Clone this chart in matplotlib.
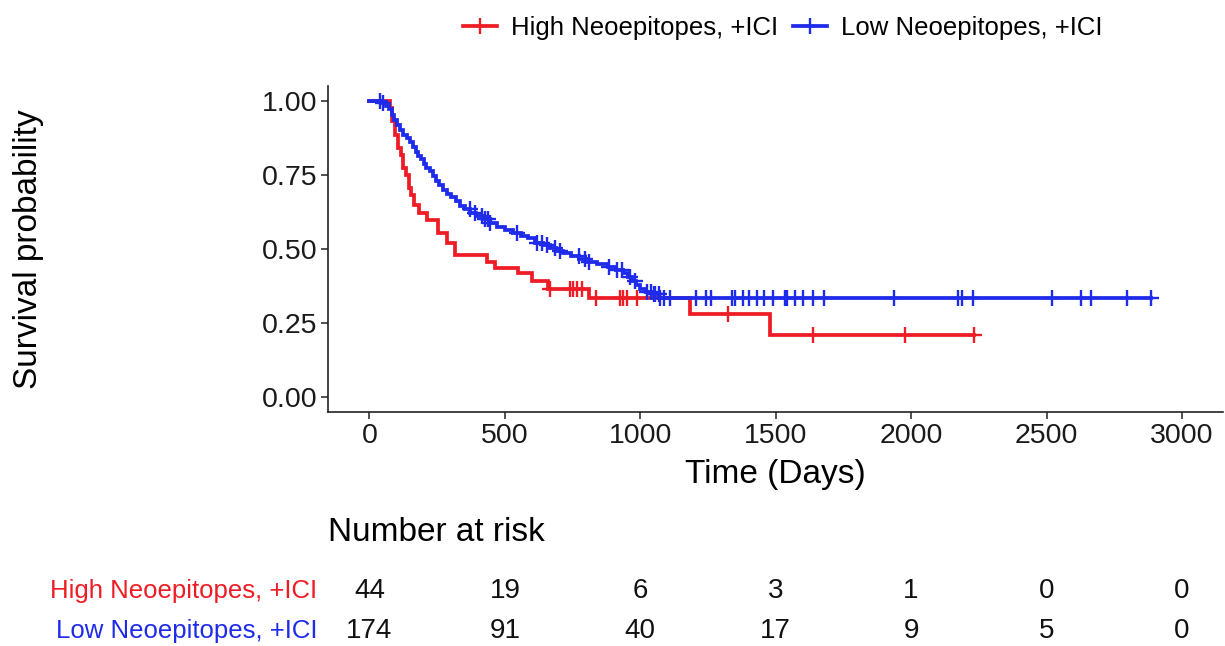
"""Kaplan-Meier curves for high vs low neoepitope load under ICI, with risk table."""

import matplotlib.pyplot as plt
import numpy as np
from matplotlib.lines import Line2D
from matplotlib.transforms import blended_transform_factory

plt.rcParams["font.family"] = ["Liberation Sans", "DejaVu Sans"]

group_names = ["High Neoepitopes, +ICI", "Low Neoepitopes, +ICI"]
group_colors = ["#EE1C25", "#1F2BEA"]

# step curve: time (days) where survival drops, new survival
high_times = [0, 75, 85, 95, 105, 115, 125, 135, 145, 155, 165, 182, 211, 254,
              285, 316, 433, 464, 550, 600, 660, 809, 1185, 1478]
high_surv = [1.0, 0.977, 0.932, 0.886, 0.841, 0.818, 0.773, 0.750, 0.705,
             0.682, 0.648, 0.620, 0.597, 0.553, 0.519, 0.480, 0.457, 0.435,
             0.418, 0.392, 0.366, 0.333, 0.280, 0.210]
high_end = 2234
high_censor = [667, 741, 753, 766, 784, 837, 926, 938, 951, 988, 1323, 1636,
               1979, 2234]

low_times = [0, 45, 60, 72, 82, 92, 102, 113, 125, 138, 150, 160, 170, 180,
             190, 200, 210, 222, 234, 246, 258, 270, 285, 300, 318, 335, 352,
             372, 395, 420, 445, 470, 500, 530, 560, 585, 612, 640, 665, 690,
             715, 745, 775, 805, 840, 880, 910, 935, 955, 970, 985, 1000, 1020,
             1045, 1070]
low_surv = [1.0, 0.994, 0.983, 0.971, 0.954, 0.937, 0.920, 0.903, 0.886, 0.874,
            0.860, 0.843, 0.826, 0.815, 0.803, 0.786, 0.774, 0.763, 0.745,
            0.728, 0.716, 0.699, 0.687, 0.675, 0.663, 0.646, 0.634, 0.622,
            0.610, 0.601, 0.588, 0.575, 0.564, 0.553, 0.545, 0.536, 0.521,
            0.512, 0.503, 0.494, 0.485, 0.475, 0.465, 0.456, 0.448, 0.440,
            0.430, 0.418, 0.405, 0.392, 0.378, 0.366, 0.356, 0.346, 0.335]
low_end = 2885
low_censor = [39, 50, 371, 390, 414, 427, 439, 445, 544, 618, 637, 655, 686,
              704, 772, 797, 809, 883, 914, 932, 963, 981, 1025, 1040, 1049,
              1055, 1068, 1074, 1086, 1108, 1207, 1244, 1261, 1339, 1348, 1380,
              1400, 1431, 1458, 1490, 1536, 1542, 1573, 1601, 1637, 1680, 1938,
              2174, 2187, 2228, 2522, 2629, 2664, 2799, 2885]

risk_times = [0, 500, 1000, 1500, 2000, 2500, 3000]
high_at_risk = [44, 19, 6, 3, 1, 0, 0]
low_at_risk = [174, 91, 40, 17, 9, 5, 0]


def draw_curve(ax, times, surv, end, censor, color):
    t = np.array(times + [end])
    s = np.array(surv + [surv[-1]])
    ax.step(t, s, where="post", color=color, lw=2.7, solid_joinstyle="miter")
    idx = np.searchsorted(np.array(times), censor, side="right") - 1
    ax.plot(censor, np.array(surv)[idx], ls="none", marker="+", ms=12,
            mew=1.7, color=color)


def main():
    fig = plt.figure(figsize=(12.25, 6.46), dpi=100)
    ax = fig.add_axes([0.268, 0.3627, 0.730, 0.504])

    draw_curve(ax, high_times, high_surv, high_end, high_censor, group_colors[0])
    draw_curve(ax, low_times, low_surv, low_end, low_censor, group_colors[1])

    ax.set_xlim(-152, 3150)
    ax.set_ylim(-0.05, 1.05)
    ax.set_xticks(risk_times)
    ax.set_yticks([0, 0.25, 0.5, 0.75, 1.0])
    ax.set_yticklabels(["0.00", "0.25", "0.50", "0.75", "1.00"])
    ax.tick_params(labelsize=20.5, length=5, width=1.1, colors="#222222",
                   labelcolor="#1a1a1a", pad=3)
    for side in ["top", "right"]:
        ax.spines[side].set_visible(False)
    for side in ["left", "bottom"]:
        ax.spines[side].set_linewidth(1.2)
        ax.spines[side].set_color("#222222")
    ax.set_xlabel("Time (Days)", fontsize=24, labelpad=7)
    ax.set_ylabel("Survival probability", fontsize=24)
    ax.yaxis.set_label_coords(-0.318, 0.5)

    handles = [
        Line2D([], [], color=c, lw=2.7, marker="+", ms=12, mew=1.7)
        for c in group_colors
    ]
    fig.legend(handles, group_names, loc="center", ncol=2,
               bbox_to_anchor=(0.639, 0.956), frameon=False, fontsize=18.5,
               handlelength=1.3, handletextpad=0.55, columnspacing=0.6)

    # risk table: x in data units of the survival plot, y as figure baseline
    trans = blended_transform_factory(ax.transData, fig.transFigure)
    row_y = [0.0745, 0.0125]
    for y, name, color, counts in zip(
        row_y, group_names, group_colors, [high_at_risk, low_at_risk]
    ):
        for t, n in zip(risk_times, counts):
            fig.text(t, y, str(n), ha="center", va="baseline", fontsize=20,
                     color="#111111", transform=trans)
        fig.text(0.259, y, name, ha="right", va="baseline", fontsize=18.5,
                 color=color)
    fig.text(0.268, 0.1625, "Number at risk", fontsize=24, ha="left",
             va="baseline")

    fig.savefig("out.png", dpi=100)
    plt.close(fig)


if __name__ == "__main__":
    main()
